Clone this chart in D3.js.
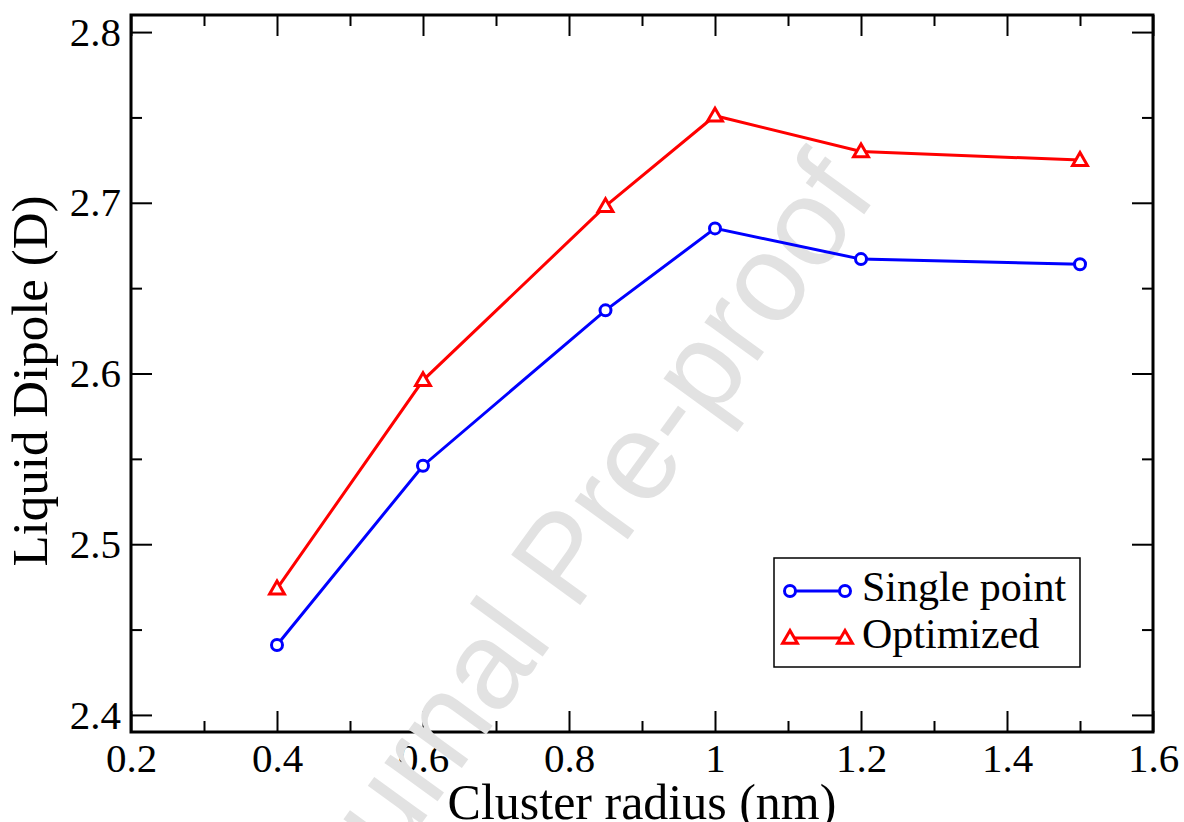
<!DOCTYPE html>
<html>
<head>
<meta charset="utf-8">
<script src="https://cdn.jsdelivr.net/npm/d3@7"></script>
<style>
  body { margin: 0; background: white; }
  text { font-family: "Liberation Serif", "Times New Roman", serif; }
</style>
</head>
<body>
<div id="canvas"></div>
<script>
var width = 1184;
var height = 822;

// data
const radius = [0.4, 0.6, 0.85, 1.0, 1.2, 1.5];
const singlePoint = [2.441, 2.546, 2.637, 2.685, 2.667, 2.664];
const optimized = [2.474, 2.596, 2.698, 2.751, 2.730, 2.725];

const xMajor = [0.2, 0.4, 0.6, 0.8, 1.0, 1.2, 1.4, 1.6];
const xLabels = ["0.2", "0.4", "0.6", "0.8", "1", "1.2", "1.4", "1.6"];
const xMinor = [0.3, 0.5, 0.7, 0.9, 1.1, 1.3, 1.5];
const yMajor = [2.4, 2.5, 2.6, 2.7, 2.8];
const yLabels = ["2.4", "2.5", "2.6", "2.7", "2.8"];
const yMinor = [2.45, 2.55, 2.65, 2.75];

const seriesNames = ["Single point", "Optimized"];

var svg = d3.select("#canvas").append("svg")
    .attr("width", width)
    .attr("height", height)
    .style("background-color", "white");

var plotLeft = 131, plotRight = 1153, plotTop = 15, plotBottom = 732;

const x = d3.scaleLinear().domain([0.2, 1.6]).range([plotLeft, plotRight]);
const y = d3.scaleLinear().domain([2.39, 2.81]).range([plotBottom, plotTop]);

// ticks on all four sides, pointing inward
function drawAxis(axis, tx, ty) {
    var g = svg.append("g")
        .attr("transform", "translate(" + tx + "," + ty + ")")
        .call(axis);
    g.select(".domain").remove();
    g.selectAll(".tick line").attr("stroke", "black").attr("stroke-width", 2);
    g.selectAll(".tick text")
        .attr("fill", "black")
        .style("font-family", '"Liberation Serif", "Times New Roman", serif')
        .style("font-size", "41px");
    return g;
}

drawAxis(d3.axisBottom(x).tickValues(xMajor).tickSize(-21).tickPadding(11)
    .tickFormat((d, i) => xLabels[i]), 0, plotBottom);
drawAxis(d3.axisBottom(x).tickValues(xMinor).tickSize(-11).tickFormat(""), 0, plotBottom);
drawAxis(d3.axisTop(x).tickValues(xMajor).tickSize(-21).tickFormat(""), 0, plotTop);
drawAxis(d3.axisTop(x).tickValues(xMinor).tickSize(-11).tickFormat(""), 0, plotTop);

drawAxis(d3.axisLeft(y).tickValues(yMajor).tickSize(-21).tickPadding(10)
    .tickFormat((d, i) => yLabels[i]), plotLeft, 0);
drawAxis(d3.axisLeft(y).tickValues(yMinor).tickSize(-11).tickFormat(""), plotLeft, 0);
drawAxis(d3.axisRight(y).tickValues(yMajor).tickSize(-21).tickFormat(""), plotRight, 0);
drawAxis(d3.axisRight(y).tickValues(yMinor).tickSize(-11).tickFormat(""), plotRight, 0);

svg.append("rect")
    .attr("x", plotLeft).attr("y", plotTop)
    .attr("width", plotRight - plotLeft).attr("height", plotBottom - plotTop)
    .attr("fill", "none")
    .attr("stroke", "black")
    .attr("stroke-width", 3);

// axis titles
svg.append("text")
    .attr("x", (plotLeft + plotRight) / 2)
    .attr("y", 819)
    .attr("text-anchor", "middle")
    .style("font-size", "50px")
    .text("Cluster radius (nm)");

svg.append("text")
    .attr("transform", "translate(47,381) rotate(-90)")
    .attr("text-anchor", "middle")
    .style("font-size", "51px")
    .text("Liquid Dipole (D)");

// watermark
svg.append("text")
    .attr("transform", "translate(878,195) rotate(-54)")
    .attr("text-anchor", "end")
    .style("font-family", '"Liberation Sans", Arial, sans-serif')
    .style("font-size", "124px")
    .attr("fill", "#e2e2e2")
    .text("Journal Pre-proof");

// series
const line = d3.line()
    .x(d => x(d[0]))
    .y(d => y(d[1]));

const tri = d3.symbol().type(d3.symbolTriangle).size(95);

function drawMarkers(pos, color, marker) {
    if (marker === "circle") {
        svg.append("g").selectAll("circle")
            .data(pos)
            .enter().append("circle")
            .attr("cx", d => d[0])
            .attr("cy", d => d[1])
            .attr("r", 5.5)
            .attr("fill", "white")
            .attr("stroke", color)
            .attr("stroke-width", 3);
    } else {
        svg.append("g").selectAll("path")
            .data(pos)
            .enter().append("path")
            .attr("transform", d => "translate(" + d[0] + "," + (d[1] + 1) + ")")
            .attr("d", tri)
            .attr("fill", "white")
            .attr("stroke", color)
            .attr("stroke-width", 3);
    }
}

function drawSeries(values, color, marker) {
    var pts = radius.map((r, i) => [r, values[i]]);
    svg.append("path")
        .datum(pts)
        .attr("d", line)
        .attr("fill", "none")
        .attr("stroke", color)
        .attr("stroke-width", 3);
    drawMarkers(pts.map(p => [x(p[0]), y(p[1])]), color, marker);
}

drawSeries(singlePoint, "#0000ff", "circle");
drawSeries(optimized, "#ff0000", "triangle");

// legend
svg.append("rect")
    .attr("x", 774).attr("y", 558)
    .attr("width", 306).attr("height", 109)
    .attr("fill", "white")
    .attr("stroke", "black")
    .attr("stroke-width", 1.5);

const legendRows = [
    { name: seriesNames[0], color: "#0000ff", marker: "circle", y: 591 },
    { name: seriesNames[1], color: "#ff0000", marker: "triangle", y: 638 }
];

legendRows.forEach(function (r) {
    svg.append("line")
        .attr("x1", 790).attr("x2", 845)
        .attr("y1", r.y).attr("y2", r.y)
        .attr("stroke", r.color)
        .attr("stroke-width", 3);
    drawMarkers([[790, r.y], [845, r.y]], r.color, r.marker);
    svg.append("text")
        .attr("x", 862)
        .attr("y", r.y + 10)
        .style("font-size", "42px")
        .text(r.name);
});
</script>
</body>
</html>
